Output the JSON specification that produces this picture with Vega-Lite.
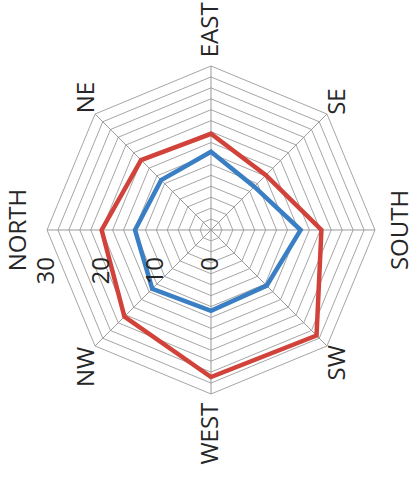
{
  "$schema": "https://vega.github.io/schema/vega-lite/v6.json",
  "width": 415,
  "height": 480,
  "autosize": "none",
  "padding": 0,
  "background": "white",
  "config": {"view": {"stroke": null}},
  "datasets": {
    "series": [
      {"dir": "EAST", "series": "Series1", "value": 14.3},
      {"dir": "SE", "series": "Series1", "value": 11.2},
      {"dir": "SOUTH", "series": "Series1", "value": 16.4},
      {"dir": "SW", "series": "Series1", "value": 14.4},
      {"dir": "WEST", "series": "Series1", "value": 14.8},
      {"dir": "NW", "series": "Series1", "value": 15.2},
      {"dir": "NORTH", "series": "Series1", "value": 13.9},
      {"dir": "NE", "series": "Series1", "value": 12.9},
      {"dir": "EAST", "series": "Series2", "value": 17.6},
      {"dir": "SE", "series": "Series2", "value": 14.2},
      {"dir": "SOUTH", "series": "Series2", "value": 20.2},
      {"dir": "SW", "series": "Series2", "value": 27.3},
      {"dir": "WEST", "series": "Series2", "value": 26.9},
      {"dir": "NW", "series": "Series2", "value": 22.4},
      {"dir": "NORTH", "series": "Series2", "value": 20.0},
      {"dir": "NE", "series": "Series2", "value": 18.1}
    ],
    "dirs": [
      {"dir": "EAST"}, {"dir": "SE"}, {"dir": "SOUTH"}, {"dir": "SW"},
      {"dir": "WEST"}, {"dir": "NW"}, {"dir": "NORTH"}, {"dir": "NE"}
    ],
    "rings": [
      {"r": 2}, {"r": 4}, {"r": 6}, {"r": 8}, {"r": 10}, {"r": 12}, {"r": 14}, {"r": 16},
      {"r": 18}, {"r": 20}, {"r": 22}, {"r": 24}, {"r": 26}, {"r": 28}, {"r": 30}
    ],
    "ticks": [{"t": 0}, {"t": 10}, {"t": 20}, {"t": 30}]
  },
  "layer": [
    {
      "data": {"name": "rings"},
      "transform": [
        {"calculate": "['EAST','SE','SOUTH','SW','WEST','NW','NORTH','NE']", "as": "dirs"},
        {"flatten": ["dirs"], "as": ["dir"]},
        {"calculate": "indexof(['EAST','SE','SOUTH','SW','WEST','NW','NORTH','NE'], datum.dir)", "as": "i"},
        {"calculate": "(90 - 45 * datum.i) * PI / 180", "as": "a"},
        {"calculate": "datum.r * cos(datum.a)", "as": "x"},
        {"calculate": "datum.r * sin(datum.a)", "as": "y"}
      ],
      "mark": {"type": "line", "interpolate": "linear-closed", "stroke": "#a6a6a6", "strokeWidth": 1},
      "encoding": {
        "x": {"field": "x", "type": "quantitative", "scale": {"domain": [-38.598, 37.317], "nice": false, "zero": false}, "axis": null},
        "y": {"field": "y", "type": "quantitative", "scale": {"domain": [-45.732, 42.073], "nice": false, "zero": false}, "axis": null},
        "detail": {"field": "r", "type": "nominal"},
        "order": {"field": "i", "type": "quantitative"}
      }
    },
    {
      "data": {"name": "dirs"},
      "transform": [
        {"calculate": "indexof(['EAST','SE','SOUTH','SW','WEST','NW','NORTH','NE'], datum.dir)", "as": "i"},
        {"calculate": "(90 - 45 * datum.i) * PI / 180", "as": "a"},
        {"calculate": "30 * cos(datum.a)", "as": "x"},
        {"calculate": "30 * sin(datum.a)", "as": "y"},
        {"calculate": "0", "as": "x0"},
        {"calculate": "0", "as": "y0"}
      ],
      "mark": {"type": "rule", "stroke": "#9a9a9a", "strokeWidth": 1},
      "encoding": {
        "x": {"field": "x0", "type": "quantitative"},
        "y": {"field": "y0", "type": "quantitative"},
        "x2": {"field": "x"},
        "y2": {"field": "y"}
      }
    },
    {
      "data": {"name": "series"},
      "transform": [
        {"calculate": "indexof(['EAST','SE','SOUTH','SW','WEST','NW','NORTH','NE'], datum.dir)", "as": "i"},
        {"calculate": "(90 - 45 * datum.i) * PI / 180", "as": "a"},
        {"calculate": "datum.value * cos(datum.a)", "as": "x"},
        {"calculate": "datum.value * sin(datum.a)", "as": "y"}
      ],
      "mark": {"type": "line", "interpolate": "linear-closed", "strokeWidth": 4.5, "strokeJoin": "miter"},
      "encoding": {
        "x": {"field": "x", "type": "quantitative"},
        "y": {"field": "y", "type": "quantitative"},
        "color": {"field": "series", "type": "nominal", "scale": {"domain": ["Series1", "Series2"], "range": ["#3a7fc4", "#d1433a"]}, "legend": null},
        "detail": {"field": "series", "type": "nominal"},
        "order": {"field": "i", "type": "quantitative"}
      }
    },
    {
      "data": {"name": "ticks"},
      "transform": [
        {"calculate": "-datum.t", "as": "x"},
        {"calculate": "0", "as": "y"}
      ],
      "mark": {"type": "text", "angle": 270, "align": "right", "baseline": "middle", "dx": -27, "font": "Open Sans", "fontSize": 24, "fill": "#262626"},
      "encoding": {
        "x": {"field": "x", "type": "quantitative"},
        "y": {"field": "y", "type": "quantitative"},
        "text": {"field": "t", "type": "quantitative"}
      }
    },
    {
      "data": {"name": "dirs"},
      "transform": [
        {"calculate": "indexof(['EAST','SE','SOUTH','SW','WEST','NW','NORTH','NE'], datum.dir)", "as": "i"},
        {"calculate": "(90 - 45 * datum.i) * PI / 180", "as": "a"},
        {"calculate": "{'EAST': 31.6, 'WEST': 31.6, 'NORTH': 33.8, 'SOUTH': 32.6, 'NE': 30.2, 'SE': 29.8, 'SW': 29.8, 'NW': 30.2}[datum.dir]", "as": "lr"},
        {"calculate": "datum.lr * cos(datum.a)", "as": "x"},
        {"calculate": "datum.lr * sin(datum.a)", "as": "y"},
        {"calculate": "(datum.dir == 'EAST' || datum.dir == 'NE' || datum.dir == 'SE') ? 'left' : ((datum.dir == 'NORTH' || datum.dir == 'SOUTH') ? 'center' : 'right')", "as": "al"},
        {"calculate": "(datum.dir == 'NORTH' || datum.dir == 'NE' || datum.dir == 'NW') ? 'alphabetic' : ((datum.dir == 'EAST' || datum.dir == 'WEST') ? 'middle' : 'top')", "as": "bl"}
      ],
      "mark": {"type": "text", "angle": 270, "align": {"expr": "datum.al"}, "baseline": {"expr": "datum.bl"}, "font": "Open Sans", "fontSize": 24, "fill": "#262626"},
      "encoding": {
        "x": {"field": "x", "type": "quantitative"},
        "y": {"field": "y", "type": "quantitative"},
        "text": {"field": "dir", "type": "nominal"}
      }
    }
  ]
}
